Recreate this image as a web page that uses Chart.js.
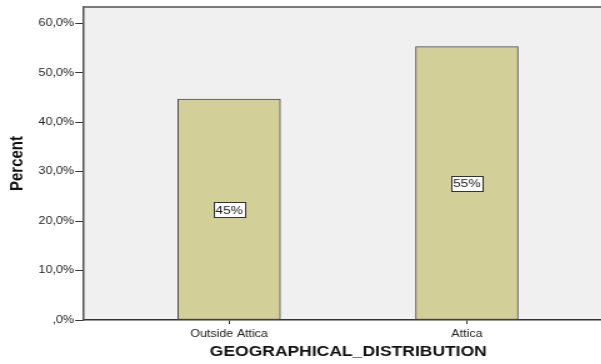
<!DOCTYPE html>
<html>
<head>
<meta charset="utf-8">
<script src="https://cdn.jsdelivr.net/npm/chart.js@4/dist/chart.umd.min.js"></script>
<style>
  html, body { margin: 0; padding: 0; background: #fff; overflow: hidden; }
  /* the chart is laid out narrow and widened on screen */
  #wrap { width: 490px; height: 364px; position: relative; transform: scaleX(1.25); transform-origin: 0 0; }
</style>
</head>
<body>
<div id="wrap"><canvas id="geoChart"></canvas></div>
<script>
// Share of respondents by region
var categories = ['Outside Attica', 'Attica'];
var percents = [44.7, 55.3];
var yTicks = [0, 10, 20, 30, 40, 50, 60];

var barFill = '#d3cf98';
var barEdge = '#4d4d4d';
var fontFamily = '"Liberation Sans", Arial, sans-serif';

// gray plot panel with a thin top rule
var panelPlugin = {
    id: 'panel',
    beforeDraw: function (chart) {
        var a = chart.chartArea, ctx = chart.ctx;
        ctx.save();
        ctx.fillStyle = '#f0f0f0';
        ctx.fillRect(a.left, a.top, a.right - a.left, a.bottom - a.top);
        ctx.strokeStyle = '#7a7a7a';
        ctx.lineWidth = 2;
        ctx.beginPath();
        ctx.moveTo(a.left, a.top);
        ctx.lineTo(a.right, a.top);
        ctx.stroke();
        ctx.restore();
    }
};

// boxed value labels in the middle of each bar
var boxLabels = {
    id: 'boxLabels',
    afterDatasetsDraw: function (chart) {
        var ctx = chart.ctx;
        var meta = chart.getDatasetMeta(0);
        var yScale = chart.scales.y;
        ctx.save();
        ctx.font = '11px ' + fontFamily;
        ctx.textAlign = 'center';
        ctx.textBaseline = 'middle';
        meta.data.forEach(function (bar, i) {
            var text = Math.round(percents[i]) + '%';
            var cy = yScale.getPixelForValue(percents[i] / 2);
            var w = ctx.measureText(text).width + 3;
            var h = 15;
            var x0 = Math.round(bar.x - w / 2) + 0.5;
            var y0 = Math.round(cy - h / 2) + 0.5;
            ctx.fillStyle = '#ffffff';
            ctx.fillRect(x0, y0, w, h);
            ctx.strokeStyle = '#333333';
            ctx.lineWidth = 1;
            ctx.strokeRect(x0, y0, w, h);
            ctx.fillStyle = '#222222';
            ctx.fillText(text, bar.x, cy + 1);
        });
        ctx.restore();
    }
};

var points = percents.map(function (v, i) { return { x: i, y: v }; });

new Chart(document.getElementById('geoChart'), {
    type: 'bar',
    data: {
        datasets: [{
            data: points,
            backgroundColor: barFill,
            borderColor: barEdge,
            borderWidth: 1,
            borderSkipped: false,
            barThickness: 82
        }]
    },
    plugins: [panelPlugin, boxLabels],
    options: {
        responsive: true,
        maintainAspectRatio: false,
        animation: false,
        layout: { padding: { top: 7, left: 0, right: 0, bottom: 0 } },
        plugins: {
            legend: { display: false },
            tooltip: { enabled: false }
        },
        scales: {
            x: {
                type: 'linear',
                offset: false,
                min: -0.6105,
                max: 1.6126,
                afterBuildTicks: function (scale) {
                    scale.ticks = categories.map(function (c, i) { return { value: i }; });
                },
                afterFit: function (scale) { scale.height = 44; },
                grid: {
                    offset: false,
                    drawOnChartArea: false,
                    drawTicks: true,
                    tickLength: 4,
                    color: '#333333'
                },
                border: { color: '#333333', width: 1.5 },
                ticks: {
                    autoSkip: false,
                    maxRotation: 0,
                    padding: 4,
                    color: '#222222',
                    font: { family: fontFamily, size: 10 },
                    callback: function (v) { return categories[v]; }
                },
                title: {
                    display: true,
                    text: 'GEOGRAPHICAL_DISTRIBUTION',
                    color: '#111111',
                    font: { family: fontFamily, size: 14, weight: 'bold' },
                    padding: { top: 2, bottom: 3 }
                }
            },
            y: {
                min: 0,
                max: 63.3,
                afterBuildTicks: function (scale) {
                    scale.ticks = yTicks.map(function (v) { return { value: v }; });
                },
                afterFit: function (scale) { scale.width = 67.2; },
                grid: {
                    drawOnChartArea: false,
                    drawTicks: true,
                    tickLength: 7,
                    color: '#333333'
                },
                border: { color: '#555555', width: 1.5 },
                ticks: {
                    padding: 1,
                    color: '#222222',
                    font: { family: fontFamily, size: 10 },
                    callback: function (v) {
                        return v === 0 ? ',0%' : v.toFixed(1).replace('.', ',') + '%';
                    }
                },
                title: {
                    display: true,
                    text: 'Percent',
                    color: '#111111',
                    font: { family: fontFamily, size: 15, weight: 'bold' },
                    padding: { top: 5, bottom: 0 }
                }
            }
        }
    }
});
</script>
</body>
</html>
